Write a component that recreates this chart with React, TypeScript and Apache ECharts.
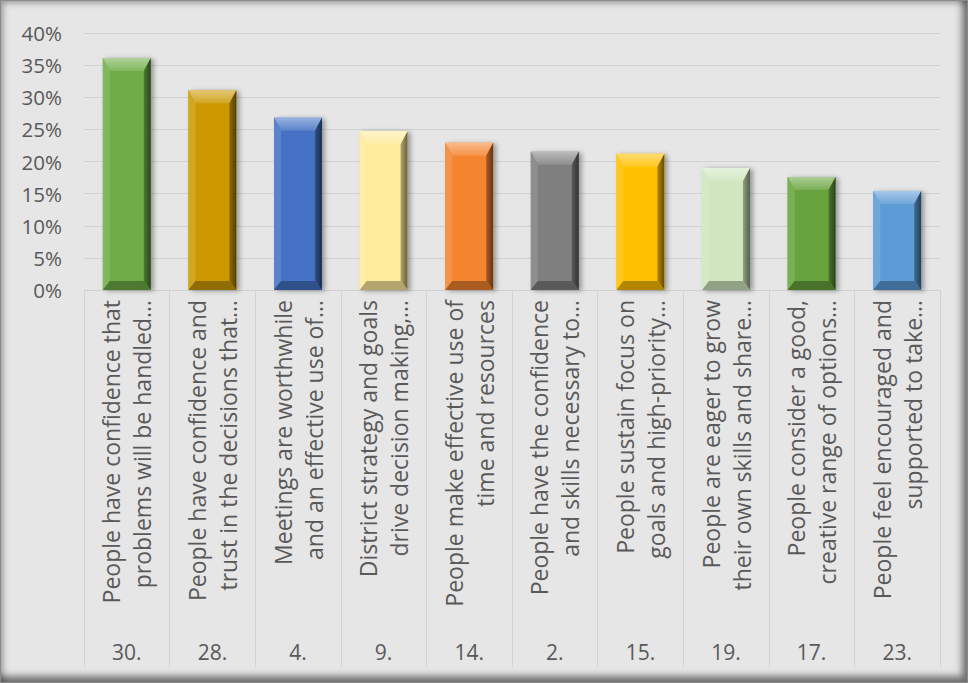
import React, { useEffect, useRef } from "react";
import * as echarts from "echarts";

const line1 = [
  "People have confidence that",
  "People have confidence and",
  "Meetings are worthwhile",
  "District strategy and goals",
  "People make effective use of",
  "People have the confidence",
  "People sustain focus on",
  "People are eager to grow",
  "People consider a good,",
  "People feel encouraged and",
];
const line2 = [
  "problems will be handled…",
  "trust in the decisions that…",
  "and an effective use of…",
  "drive decision making,…",
  "time and resources",
  "and skills necessary to…",
  "goals and high-priority…",
  "their own skills and share…",
  "creative range of options…",
  "supported to take…",
];
const itemNumbers = ["30.", "28.", "4.", "9.", "14.", "2.", "15.", "19.", "17.", "23."];
const values = [0.361, 0.311, 0.268, 0.247, 0.229, 0.215, 0.212, 0.19, 0.176, 0.154];
const barColors = [
  "#70AD47",
  "#CC9A06",
  "#4472C4",
  "#FFEB9C",
  "#F4842F",
  "#7F7F7F",
  "#FFC000",
  "#CFE6BF",
  "#68A43E",
  "#5B9BD5",
];
const yTicks = [0, 0.05, 0.1, 0.15, 0.2, 0.25, 0.3, 0.35, 0.4];

const FONT = "'Open Sans', 'Noto Sans', sans-serif";

function hexToRgb(h: string) {
  const n = parseInt(h.slice(1), 16);
  return [(n >> 16) & 255, (n >> 8) & 255, n & 255];
}
function mix(h: string, target: number, t: number) {
  const [r, g, b] = hexToRgb(h);
  const f = (c: number) => Math.round(c + (target - c) * t);
  return `rgb(${f(r)},${f(g)},${f(b)})`;
}

export default function App() {
  const ref = useRef<HTMLDivElement>(null);
  useEffect(() => {
    if (!ref.current) return;
    const chart = echarts.init(ref.current, undefined, { renderer: "svg" });
    const categories = line1.map((a, i) => a + "\n" + line2[i]);
    chart.setOption({
      animation: false,
      backgroundColor: "transparent",
      textStyle: { fontFamily: FONT },
      grid: { left: 84, right: 28, top: 33, bottom: 393, containLabel: false },
      xAxis: [
        {
          type: "category",
          data: categories,
          position: "bottom",
          boundaryGap: true,
          axisLine: { show: true, lineStyle: { color: "#d0d0d0", width: 1 } },
          axisTick: { show: true, length: 377, interval: 0, lineStyle: { color: "#d3d3d3", width: 1 } },
          splitLine: { show: false },
          axisLabel: {
            interval: 0,
            rotate: 90,
            margin: 10,
            fontSize: 23,
            lineHeight: 31,
            color: "#595959",
            fontFamily: FONT,
            hideOverlap: false,
          },
        },
        {
          type: "category",
          data: itemNumbers,
          position: "bottom",
          offset: 343,
          axisLine: { show: false },
          axisTick: { show: false },
          splitLine: { show: false },
          axisLabel: { interval: 0, margin: 8, fontSize: 21, color: "#595959", fontFamily: FONT },
        },
      ],
      yAxis: {
        type: "value",
        min: yTicks[0],
        max: yTicks[yTicks.length - 1],
        interval: 0.05,
        axisLine: { show: false },
        axisTick: { show: false },
        splitLine: { show: true, lineStyle: { color: "#d2d2d2", width: 1 } },
        axisLabel: {
          margin: 22,
          fontSize: 20.5,
          color: "#595959",
          fontFamily: FONT,
          formatter: (v: number) => Math.round(v * 100) + "%",
        },
      },
      series: [
        {
          type: "custom",
          xAxisIndex: 0,
          encode: { x: 0, y: 1 },
          data: values.map((v, i) => [i, v]),
          renderItem: (params: any, api: any) => {
            const i = params.dataIndex;
            const xi = api.value(0);
            const v = api.value(1);
            const top = api.coord([xi, v]);
            const base = api.coord([xi, 0]);
            const bw = api.size([1, 0])[0] * 0.56;
            const l = top[0] - bw / 2;
            const r = top[0] + bw / 2;
            const t = top[1];
            const b = base[1];
            const c = barColors[i];
            const sx = 7;
            const st = 13;
            const sb = 9;
            return {
              type: "group",
              children: [
                {
                  type: "rect",
                  shape: { x: l, y: t, width: r - l, height: b - t },
                  style: {
                    fill: c,
                    shadowBlur: 5,
                    shadowOffsetX: 3,
                    shadowOffsetY: 1,
                    shadowColor: "rgba(0,0,0,0.35)",
                  },
                },
                {
                  type: "polygon",
                  shape: { points: [[l, t], [r, t], [r - sx, t + st], [l + sx, t + st]] },
                  style: {
                    fill: new echarts.graphic.LinearGradient(0, 0, 0, 1, [
                      { offset: 0, color: mix(c, 255, 0.45) },
                      { offset: 1, color: mix(c, 255, 0.12) },
                    ]),
                  },
                },
                {
                  type: "polygon",
                  shape: { points: [[l, t], [l + sx, t + st], [l + sx, b - sb], [l, b]] },
                  style: { fill: mix(c, 255, 0.12) },
                },
                {
                  type: "polygon",
                  shape: { points: [[r, t], [r, b], [r - sx, b - sb], [r - sx, t + st]] },
                  style: {
                    fill: new echarts.graphic.LinearGradient(0, 0, 1, 0, [
                      { offset: 0, color: mix(c, 0, 0.3) },
                      { offset: 1, color: mix(c, 0, 0.6) },
                    ]),
                  },
                },
                {
                  type: "polygon",
                  shape: { points: [[l, b], [l + sx, b - sb], [r - sx, b - sb], [r, b]] },
                  style: { fill: mix(c, 0, 0.3) },
                },
              ],
            };
          },
        },
      ],
    });
    return () => chart.dispose();
  }, []);
  return (
    <div
      style={{
        position: "fixed",
        left: 0,
        top: 0,
        width: 968,
        height: 683,
        background: "#e6e6e6",
        boxShadow:
          "inset 0 0 0 1px #8a8a8a, inset 3px 3px 6px rgba(0,0,0,0.35), inset -6px -7px 7px rgba(0,0,0,0.5)",
      }}
    >
      <div ref={ref} style={{ width: 968, height: 683 }} />
    </div>
  );
}
